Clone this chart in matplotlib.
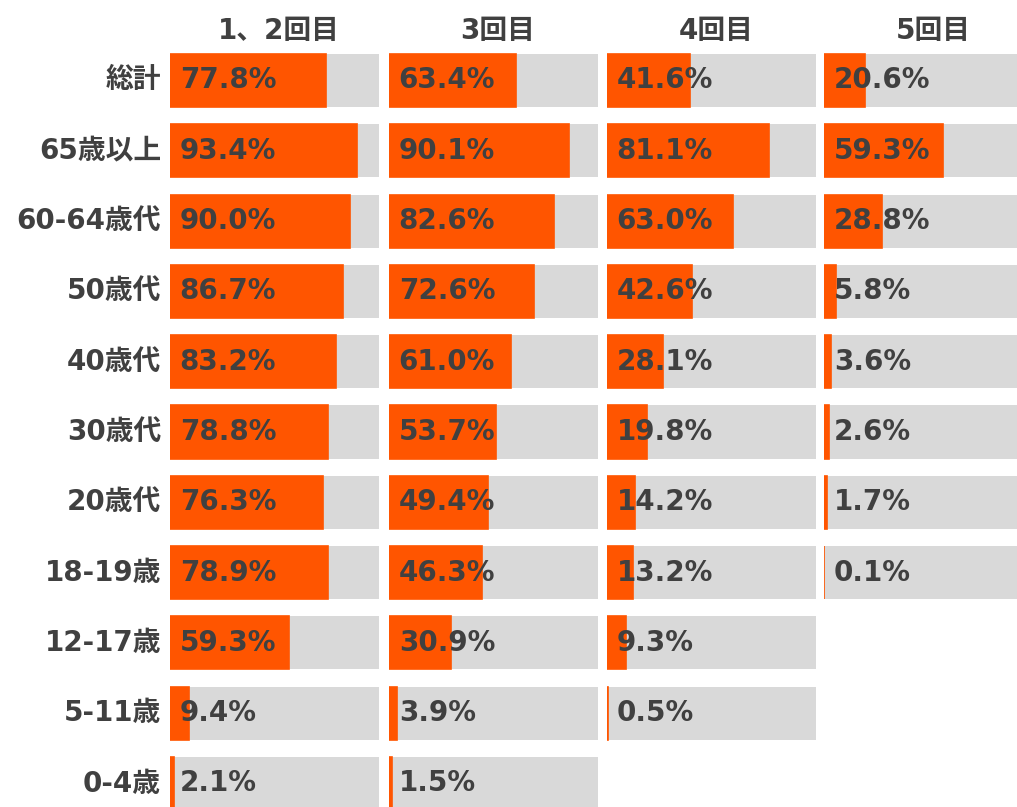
import numpy as np
import matplotlib
matplotlib.use("Agg")
import matplotlib.pyplot as plt

plt.rcParams['font.family'] = ['DejaVu Sans', 'Noto Sans CJK JP']

# data
groups = ['総計', '65歳以上', '60-64歳代', '50歳代', '40歳代', '30歳代',
          '20歳代', '18-19歳', '12-17歳', '5-11歳', '0-4歳']
doses = ['1、2回目', '3回目', '4回目', '5回目']
dose12 = [77.8, 93.4, 90.0, 86.7, 83.2, 78.8, 76.3, 78.9, 59.3, 9.4, 2.1]
dose3 = [63.4, 90.1, 82.6, 72.6, 61.0, 53.7, 49.4, 46.3, 30.9, 3.9, 1.5]
dose4 = [41.6, 81.1, 63.0, 42.6, 28.1, 19.8, 14.2, 13.2, 9.3, 0.5, None]
dose5 = [20.6, 59.3, 28.8, 5.8, 3.6, 2.6, 1.7, 0.1, None, None, None]
series = [dose12, dose3, dose4, dose5]

orange = '#FF5500'
gray = '#D9D9D9'
txt = '#404040'

W, H = 1017, 807
fig = plt.figure(figsize=(W / 100, H / 100), dpi=100)

# panel left edges in pixels, 2 px per percent
lefts = [170, 389, 607, 824]
pw = 209
row0 = 80.5
step = 70.3
ytop = 45
y_lo = (ytop - row0) / step
y_hi = (H - row0) / step
xmax = pw / 2.0

for k, vals in enumerate(series):
    ax = fig.add_axes([lefts[k] / W, 0, pw / W, (H - ytop) / H])
    ax.set_xlim(0, xmax)
    ax.set_ylim(y_hi, y_lo)
    ax.axis('off')
    for i, v in enumerate(vals):
        if v is None:
            continue
        ax.barh(i, xmax, height=0.754, color=gray, linewidth=0)
        ax.barh(i, v, height=0.754, color=orange, edgecolor=orange, linewidth=1.2)
        ax.annotate('%.1f%%' % v, (0, i), xytext=(7, 0), textcoords='offset points',
                    ha='left', va='center', fontsize=20, fontweight='bold', color=txt)
    fig.text((lefts[k] + pw / 2 + 4.5) / W, 1 - 31 / H, doses[k], ha='center', va='center',
             fontsize=20, fontweight='bold', color=txt)

for i, g in enumerate(groups):
    fig.text(161 / W, 1 - (row0 + step * i) / H, g, ha='right', va='center',
             fontsize=20, fontweight='bold', color=txt)

fig.savefig('out.png', dpi=100, facecolor='white')
